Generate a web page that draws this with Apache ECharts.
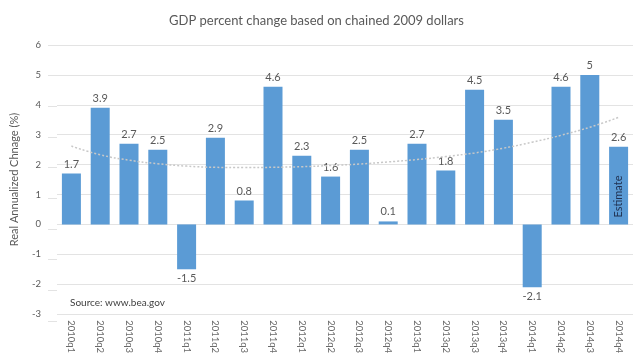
<!DOCTYPE html>
<html>
<head>
<meta charset="utf-8">
<script src="https://cdn.jsdelivr.net/npm/echarts@6/dist/echarts.min.js"></script>
<style>html,body{margin:0;padding:0;background:#fff;}#c{width:633px;height:356px;}</style>
</head>
<body>
<div id="c"></div>
<script>
const categories = ["2010q1","2010q2","2010q3","2010q4","2011q1","2011q2","2011q3","2011q4","2012q1","2012q2","2012q3","2012q4","2013q1","2013q2","2013q3","2013q4","2014q1","2014q2","2014q3","2014q4"];
const gdpChange = [1.7,3.9,2.7,2.5,-1.5,2.9,0.8,4.6,2.3,1.6,2.5,0.1,2.7,1.8,4.5,3.5,-2.1,4.6,5,2.6];
const trendValues = [2.62,2.33,2.15,2.03,1.95,1.91,1.90,1.91,1.93,1.97,2.02,2.09,2.17,2.27,2.39,2.55,2.75,2.98,3.25,3.58];
const estimateValues = ['-','-','-','-','-','-','-','-','-','-','-','-','-','-','-','-','-','-','-',2.6];
const yTicks = [-3,-2,-1,0,1,2,3,4,5,6];
const titleText = "GDP percent change based on chained 2009 dollars";
const yAxisTitle = "Real Annualized Chnage (%)";
const sourceText = "Source: www.bea.gov";
const estimateText = "Estimate";

const FONT = "Lato, 'Open Sans', sans-serif";
const chart = echarts.init(document.getElementById('c'));
chart.setOption({
  animation: false,
  backgroundColor: '#fff',
  title: {
    text: titleText, left: 'center', top: 9,
    textStyle: {fontFamily: FONT, fontSize: 13, fontWeight: 'normal', color: '#595959'}
  },
  grid: [
    {left: 57, top: 45, width: 580, height: 276},
    {left: 48, top: 45, width: 9, height: 276}
  ],
  xAxis: [
    {
      type: 'category', data: categories, gridIndex: 0,
      axisLine: {show: false}, axisTick: {show: false},
      axisLabel: {rotate: -90, margin: 6, fontSize: 9.5, color: '#6a6a6a', fontFamily: FONT, interval: 0}
    },
    {type: 'category', gridIndex: 1, data: [''], show: false}
  ],
  yAxis: [
    {
      type: 'value', gridIndex: 0, min: yTicks[0], max: yTicks[yTicks.length-1], interval: 1,
      name: yAxisTitle, nameLocation: 'middle', nameGap: 37,
      nameTextStyle: {fontFamily: FONT, fontSize: 11, color: '#595959'},
      axisLine: {show: false}, axisTick: {show: false},
      axisLabel: {margin: 16, fontSize: 9.5, color: '#595959', fontFamily: FONT},
      splitLine: {lineStyle: {color: '#e3e3e3', width: 1}}
    },
    {
      type: 'value', gridIndex: 1, min: yTicks[0], max: yTicks[yTicks.length-1], interval: 1,
      axisLine: {show: false}, axisTick: {show: false}, axisLabel: {show: false},
      splitLine: {lineStyle: {color: '#e3e3e3', width: 1}}
    }
  ],
  series: [
    {
      type: 'bar', data: gdpChange, barWidth: 19,
      itemStyle: {color: '#5b9bd5'},
      label: {show: true, position: 'outside', distance: 4, fontSize: 11, color: '#595959', fontFamily: FONT},
      z: 2
    },
    {
      type: 'bar', data: estimateValues, barWidth: 19, barGap: '-100%',
      itemStyle: {color: 'rgba(0,0,0,0)'},
      label: {show: true, position: 'inside', rotate: 90, offset: [-11, 0], formatter: estimateText,
              fontSize: 11, color: '#1f2f4f', fontFamily: FONT},
      z: 3, silent: true
    },
    {
      type: 'line', data: trendValues, symbol: 'none', smooth: true,
      lineStyle: {color: '#c8c8c8', width: 1.5, type: [2, 2]},
      z: 4, silent: true
    }
  ],
  graphic: [
    {type: 'text', left: 70, top: 298, style: {text: sourceText, font: "10px " + FONT, fill: '#404040'}}
  ]
});
</script>
</body>
</html>
